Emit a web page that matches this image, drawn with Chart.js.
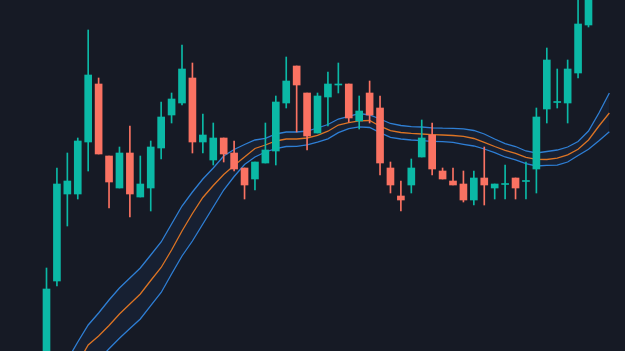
<!DOCTYPE html>
<html><head><meta charset="utf-8">
<script src="https://cdn.jsdelivr.net/npm/chart.js@4.4.1/dist/chart.umd.min.js"></script>
<style>
html,body{margin:0;padding:0;background:#161a25;overflow:hidden}
#wrap{width:625px;height:351px;position:relative}
</style>
</head><body>
<div id="wrap"><canvas id="c" width="625" height="351"></canvas></div>
<script>
// Candle values (OHLC), one per bar
const opens  = [30,119,206,206,258,316,244,212,247,203,212,252,285,297,322,258,240,262,247,232,221,237,249,297,334,307,267,303,315,316,279,307,292,232,204,215,243,265,229,219,216,200,222,212,215.5,222,218.5,231,291,297.5,297,327,375];
const highs  = [132,232,247,262,370,322,244,253,274,244,259,298,307,355,337,286,277,262,259,232,238,277,304,343,334,307,307,328,337,316,304,319,304,238,219,241,280,277,232,232,229,229,253,216,235,222,238,292,352,331,340,405,430];
const lows   = [15,114,174,201,229,246,192,212,183,203,189,241,277,295,247,247,235,238,229,201,210,237,235,292,268,250,267,274,307,278,271,277,225,207,189,207,243,225,221,215,198,195,195,201,201,201,201,207,277,292,277,322,373];
const closes = [111,216,219,259,325,246,218,247,206,216,253,283,301,331,258,265,262,246,231,215,238,250,298,319,315,264,304,316,316,282,289,285,237,215,200,232,262,231,221,215,200,222,215,216,216,212,219,283,340,298,331,376,420];

// Channel values (upper / middle / lower), extends two bars past last candle
const upperBand = [4,22,40,58,75,87,100,112,122,132,145,158,176,194,208,221,232,244,250.5,255.5,260,261.7,266,268,268,269,272,275.5,281,283.7,286.5,285,281,276.5,274.5,273.3,273,272.2,271.8,271.7,271.2,269.5,266,261,256.3,253.5,249,247,248.5,250,253,258.5,269,287,307];
const midBand   = [-16,1,19,37,55,64,74.5,86,96,106,119.5,132.5,150,169,186.5,202.5,214.5,225.5,234.5,243,251.5,255,259,261,261,262,264.7,268.8,275,277.4,279.2,279.5,273.8,269.3,267.5,266.6,266,265.4,265,264.5,263.6,261.5,257.7,253.5,249.6,246.7,242.7,240.7,240.5,241.8,245.2,250.7,260,274,287];
const lowerBand = [-46,-29,-12,5,30,40,51.3,61.7,71.4,81,94.3,107.5,126,144,159,176,193,210,223.5,235.5,243,248,251.4,253.5,253.7,255.1,257.9,261.1,267.3,271.3,273.2,272.5,267.3,262.7,261,260,259.3,258.7,258.3,257.6,255.7,254,251,247.3,243,240.2,236.3,234,234.7,234.8,238,244.5,250.8,259.3,268.3];

const UP = '#0bb9a6', DOWN = '#fa7262';
const candleColors = opens.map((o,i) => closes[i] >= o ? UP : DOWN);
const bodies = opens.map((o,i) => ({x:i, y:[Math.min(o,closes[i]), Math.max(o,closes[i])]}));
const wicks  = opens.map((o,i) => ({x:i, y:[lows[i], highs[i]]}));
const toPts = arr => arr.map((v,i) => ({x:i, y:v}));

new Chart(document.getElementById('c'), {
  type: 'bar',
  data: {
    datasets: [
      {type:'bar', data: bodies, backgroundColor: candleColors, borderWidth:0, barThickness:7, grouped:false, minBarLength:1, order:0},
      {type:'bar', data: wicks, backgroundColor: candleColors, borderWidth:0, barThickness:1, grouped:false, order:1},
      {type:'line', data: toPts(upperBand), borderColor:'#2f7fd4', borderWidth:1.3, pointRadius:0, tension:0, fill:4, backgroundColor:'rgba(40,110,220,0.07)', order:3},
      {type:'line', data: toPts(midBand), borderColor:'#dc7424', borderWidth:1.3, pointRadius:0, tension:0, fill:false, order:2},
      {type:'line', data: toPts(lowerBand), borderColor:'#2f7fd4', borderWidth:1.3, pointRadius:0, tension:0, fill:false, order:3}
    ]
  },
  options: {
    responsive:false,
    animation:false,
    devicePixelRatio:1,
    layout:{padding:0},
    plugins:{legend:{display:false}, tooltip:{enabled:false}},
    scales:{
      x:{type:'linear', min:-4.4613, max:55.502, offset:false, display:false},
      y:{type:'linear', min:49, max:400, display:false}
    }
  }
});
</script>
</body></html>
